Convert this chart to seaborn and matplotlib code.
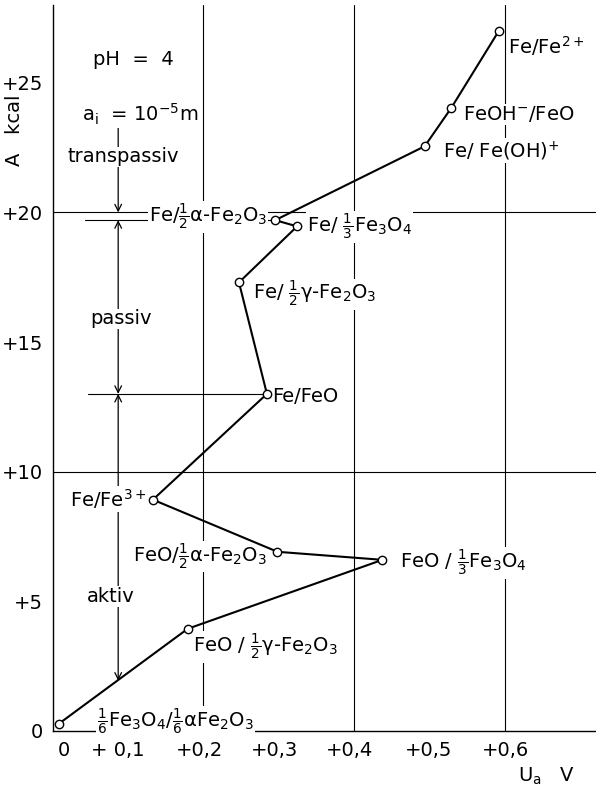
import matplotlib
matplotlib.use("Agg")
import matplotlib.pyplot as plt
import matplotlib.transforms as mtransforms
import seaborn as sns
import pandas as pd

# Anodic potential U_a (V) and affinity A (kcal) of the electrode reactions, pH 4
U_a = [0.008, 0.179, 0.437, 0.298, 0.133, 0.284, 0.247, 0.324, 0.295, 0.493, 0.528, 0.591]
A_kcal = [0.27, 3.94, 6.60, 6.91, 8.92, 13.00, 17.30, 19.46, 19.70, 22.55, 24.02, 26.99]
reactions = [
    r"$\frac{1}{6}$Fe$_3$O$_4$/$\frac{1}{6}$αFe$_2$O$_3$",
    r"FeO / $\frac{1}{2}$γ-Fe$_2$O$_3$",
    r"FeO / $\frac{1}{3}$Fe$_3$O$_4$",
    r"FeO/$\frac{1}{2}$α-Fe$_2$O$_3$",
    r"Fe/Fe$^{3+}$",
    r"Fe/FeO",
    r"Fe/ $\frac{1}{2}$γ-Fe$_2$O$_3$",
    r"Fe/ $\frac{1}{3}$Fe$_3$O$_4$",
    r"Fe/$\frac{1}{2}$α-Fe$_2$O$_3$",
    r"Fe/ Fe(OH)$^{+}$",
    r"FeOH$^{-}$/FeO",
    r"Fe/Fe$^{2+}$",
]
# label anchor (x, baseline y, horizontal alignment) for each reaction
label_x = [0.059, 0.186, 0.460, 0.284, 0.125, 0.291, 0.266, 0.337, 0.285, 0.517, 0.544, 0.603]
label_y = [0.15, 3.05, 6.29, 6.53, 8.65, 12.68, 16.64, 19.23, 19.62, 22.12, 23.55, 26.10]
label_ha = ["left", "left", "left", "right", "right", "left", "left", "left", "right",
            "left", "left", "left"]

x_ticks = [0.0, 0.1, 0.2, 0.3, 0.4, 0.5, 0.6]
x_tick_labels = ["0", "+ 0,1", "+0,2", "+0,3", "+0,4", "+0,5", "+0,6"]
x_label_shift_px = [11, -10, -4, -4, -5, -1, 0]
y_ticks = [0, 5, 10, 15, 20, 25]
y_tick_labels = ["0", "+5", "+10", "+15", "+20", "+25"]
v_grid = [0.2, 0.4, 0.6]
h_grid = [10, 20]

# region boundaries along the divider line
transpassiv_from = 20.0
passiv_top, passiv_bottom = 19.70, 13.0
aktiv_bottom = 1.94
divider_x = 0.087

sns.set_style("white")
plt.rcParams["font.family"] = ["DejaVu Sans"]
plt.rcParams["mathtext.fontset"] = "dejavusans"
plt.rcParams["mathtext.default"] = "regular"
for key in ["text.color", "axes.labelcolor", "xtick.color", "ytick.color"]:
    plt.rcParams[key] = "black"

fig = plt.figure(figsize=(5.96, 7.87), dpi=100)
ax = fig.add_axes([0.0881, 0.0712, 0.912, 0.9225])
ax.set_xlim(0, 0.72)
ax.set_ylim(0, 28.0)

for gx in v_grid:
    ax.axvline(gx, color="black", lw=0.8, zorder=1)
for gy in h_grid:
    ax.axhline(gy, color="black", lw=0.8, zorder=1)

df = pd.DataFrame({"U": U_a, "A": A_kcal})
sns.lineplot(data=df, x="U", y="A", sort=False, estimator=None, color="black",
             lw=1.5, marker="o", markersize=6, markerfacecolor="white",
             markeredgecolor="black", markeredgewidth=1.0, ax=ax, zorder=4)

box = dict(facecolor="white", edgecolor="none", pad=0.5)
fs = 14
for x, y, t, ha in zip(label_x, label_y, reactions, label_ha):
    ax.text(x, y, t, ha=ha, va="baseline", fontsize=fs, bbox=box, zorder=3)

# leader lines for the passivation potentials
ax.plot([0.047, U_a[5]], [A_kcal[5], A_kcal[5]], color="black", lw=0.8, zorder=2)
ax.plot([0.043, U_a[8]], [A_kcal[8], A_kcal[8]], color="black", lw=0.8, zorder=2)

# region divider with arrows
arrow_kw = dict(color="black", lw=0.9, shrinkA=0, shrinkB=0, mutation_scale=12)
ax.annotate("", xy=(divider_x, transpassiv_from), xytext=(divider_x, 23.4),
            arrowprops=dict(arrowstyle="->", **arrow_kw), zorder=2)
ax.annotate("", xy=(divider_x, passiv_top), xytext=(divider_x, passiv_bottom),
            arrowprops=dict(arrowstyle="<->", **arrow_kw), zorder=2)
ax.annotate("", xy=(divider_x, aktiv_bottom), xytext=(divider_x, passiv_bottom),
            arrowprops=dict(arrowstyle="<->", **arrow_kw), zorder=2)

ax.text(0.1066, 25.7, "pH  =  4", ha="center", va="baseline", fontsize=fs, bbox=box, zorder=3)
ax.text(0.039, 23.5, r"a$_i$  = 10$^{-5}$m", ha="left", va="baseline", fontsize=fs,
        bbox=box, zorder=3)
ax.text(0.0205, 21.93, "transpassiv", ha="left", va="baseline", fontsize=fs, bbox=box, zorder=3)
ax.text(0.050, 15.68, "passiv", ha="left", va="baseline", fontsize=fs, bbox=box, zorder=3)
ax.text(0.0457, 4.98, "aktiv", ha="left", va="baseline", fontsize=fs, bbox=box, zorder=3)

ax.set_xticks(x_ticks)
ax.set_xticklabels(x_tick_labels, fontsize=fs)
ax.set_yticks(y_ticks)
ax.set_yticklabels(y_tick_labels, fontsize=fs)
ax.tick_params(axis="both", length=3, width=0.8, pad=4, color="black", direction="out")
for lbl, dx in zip(ax.get_xticklabels(), x_label_shift_px):
    lbl.set_transform(lbl.get_transform() +
                      mtransforms.ScaledTranslation(dx / 100, 0, fig.dpi_scale_trans))
ax.set_xlabel("")
ax.set_ylabel("")

ax.text(0.6166, -1.97, r"U$_a$   V", ha="left", va="baseline", fontsize=fs, clip_on=False)
ax.text(-0.0497, 23.17, "A   kcal", rotation=90, ha="center", va="center", fontsize=fs,
        clip_on=False)

for side in ["top", "right"]:
    ax.spines[side].set_visible(False)
for side in ["left", "bottom"]:
    ax.spines[side].set_color("black")
    ax.spines[side].set_linewidth(1.0)

fig.savefig("out.png", dpi=100, facecolor="white")
